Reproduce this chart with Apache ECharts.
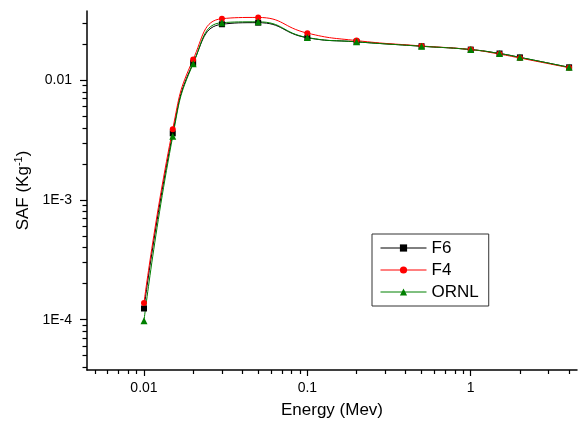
<!DOCTYPE html>
<html>
<head>
<meta charset="utf-8">
<script src="https://cdn.jsdelivr.net/npm/echarts@6/dist/echarts.min.js"></script>
<style>html,body{margin:0;padding:0;background:#fff;}#c{width:581px;height:432px;}</style>
</head>
<body>
<div id="c"></div>
<script>
const energy = [0.01, 0.015, 0.02, 0.03, 0.05, 0.1, 0.2, 0.5, 1, 1.5, 2, 4];
const safF6 = [1.24e-4, 3.6e-3, 0.0139, 0.0293, 0.0302, 0.0226, 0.0209, 0.0192, 0.0180, 0.0167, 0.0155, 0.0128];
const safF4 = [1.38e-4, 3.9e-3, 0.0149, 0.0326, 0.0334, 0.0247, 0.0214, 0.0193, 0.0180, 0.0165, 0.0153, 0.0127];
const safORNL = [0.98e-4, 3.4e-3, 0.0137, 0.0302, 0.0307, 0.0227, 0.0209, 0.0192, 0.0180, 0.0167, 0.0155, 0.0128];
const seriesNames = ['F6', 'F4', 'ORNL'];

const xTickValues = [0.01, 0.1, 1];
const xTickLabels = ['0.01', '0.1', '1'];
const xMinorTicks = [0.005, 0.006, 0.007, 0.008, 0.009, 0.02, 0.03, 0.04, 0.05, 0.06, 0.07, 0.08, 0.09,
  0.2, 0.3, 0.4, 0.5, 0.6, 0.7, 0.8, 0.9, 2, 3, 4];
const yTickValues = [1e-4, 1e-3, 0.01];
const yTickLabels = ['1E-4', '1E-3', '0.01'];
const yMinorTicks = [4e-5, 5e-5, 6e-5, 7e-5, 8e-5, 9e-5,
  2e-4, 3e-4, 4e-4, 5e-4, 6e-4, 7e-4, 8e-4, 9e-4,
  2e-3, 3e-3, 4e-3, 5e-3, 6e-3, 7e-3, 8e-3, 9e-3, 0.02, 0.03];

const FONT = 'Arial, "Liberation Sans", sans-serif';
const xMin = 0.00448, xMax = 4.47, yMin = 3.8e-5, yMax = 0.0378;

function lookup(vals, labels, v) {
  for (let i = 0; i < vals.length; i++) {
    if (Math.abs(vals[i] - v) / vals[i] < 1e-6) return labels[i];
  }
  return '';
}

const chart = echarts.init(document.getElementById('c'), null, {renderer: 'canvas'});

const styles = [
  {color: '#000000', symbol: 'rect', size: 6},
  {color: '#ff0000', symbol: 'circle', size: 6},
  {color: '#008000', symbol: 'triangle', size: 7}
];
const values = [safF6, safF4, safORNL];

const series = seriesNames.map((n, i) => ({
  name: n,
  type: 'line',
  xAxisIndex: 0,
  yAxisIndex: 0,
  smooth: 0.5,
  symbol: styles[i].symbol,
  symbolSize: styles[i].size,
  showAllSymbol: true,
  lineStyle: {color: styles[i].color, width: 1},
  itemStyle: {color: styles[i].color, borderWidth: 0},
  emphasis: {disabled: true},
  animation: false,
  data: energy.map((e, k) => [e, values[i][k]])
}));

const axisLineStyle = {show: true, onZero: false, lineStyle: {color: '#000', width: 1.5}};

chart.setOption({
  animation: false,
  backgroundColor: '#fff',
  grid: {left: 87, right: 4, top: 11, bottom: 62, containLabel: false},
  legend: {
    left: 372, top: 234,
    orient: 'vertical',
    data: seriesNames,
    itemWidth: 46, itemHeight: 9, itemGap: 4,
    padding: [5, 10, 5, 8],
    borderColor: '#333', borderWidth: 1,
    lineStyle: {width: 1},
    textStyle: {fontFamily: FONT, fontSize: 17, color: '#000', lineHeight: 18},
    selectedMode: false
  },
  xAxis: [{
    type: 'log', logBase: 10, min: xMin, max: xMax, position: 'bottom',
    name: 'Energy (Mev)', nameLocation: 'middle', nameGap: 32,
    nameTextStyle: {fontFamily: FONT, fontSize: 17, color: '#000'},
    axisLine: axisLineStyle,
    axisTick: {show: true, inside: false, length: 6, customValues: xTickValues, lineStyle: {color: '#000', width: 1.2}},
    axisLabel: {show: true, margin: 11, customValues: xTickValues, fontFamily: FONT, fontSize: 14, color: '#000',
      formatter: v => lookup(xTickValues, xTickLabels, v)},
    splitLine: {show: false}, minorTick: {show: false}
  }, {
    type: 'log', logBase: 10, min: xMin, max: xMax, position: 'bottom', gridIndex: 0,
    axisLine: {show: false},
    axisTick: {show: true, inside: false, length: 4, customValues: xMinorTicks, lineStyle: {color: '#000', width: 1.2}},
    axisLabel: {show: false},
    splitLine: {show: false}
  }],
  yAxis: [{
    type: 'log', logBase: 10, min: yMin, max: yMax, position: 'left',
    name: 'SAF (Kg{sup|-1})', nameLocation: 'middle', nameGap: 54, nameRotate: 90,
    nameTextStyle: {fontFamily: FONT, fontSize: 17, color: '#000',
      rich: {sup: {fontFamily: FONT, fontSize: 11, color: '#000', padding: [0, 0, 8, 0]}}},
    axisLine: axisLineStyle,
    axisTick: {show: true, inside: false, length: 7, customValues: yTickValues, lineStyle: {color: '#000', width: 1.2}},
    axisLabel: {show: true, margin: 15, customValues: yTickValues, fontFamily: FONT, fontSize: 14, color: '#000',
      formatter: v => lookup(yTickValues, yTickLabels, v)},
    splitLine: {show: false}, minorTick: {show: false}
  }, {
    type: 'log', logBase: 10, min: yMin, max: yMax, position: 'left', gridIndex: 0,
    axisLine: {show: false},
    axisTick: {show: true, inside: false, length: 4.5, customValues: yMinorTicks, lineStyle: {color: '#000', width: 1.2}},
    axisLabel: {show: false},
    splitLine: {show: false}
  }],
  series: series
});
</script>
</body>
</html>
